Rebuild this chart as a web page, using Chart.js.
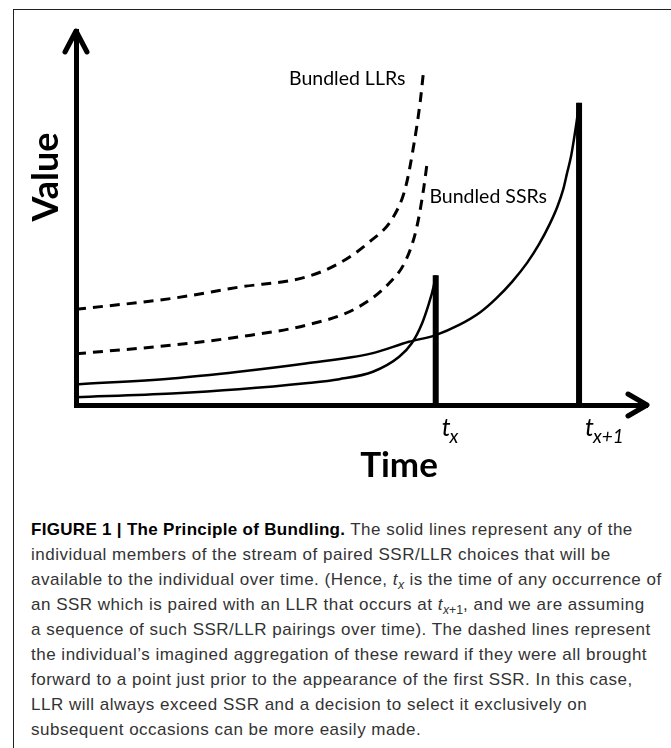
<!DOCTYPE html>
<html>
<head>
<meta charset="utf-8">
<script src="https://cdn.jsdelivr.net/npm/chart.js@4"></script>
<style>
  html, body { margin: 0; padding: 0; background: #fff; }
  body { width: 671px; height: 748px; position: relative; overflow: hidden; }
  #frame { position: absolute; left: 13px; top: 9px; width: 700px; height: 760px;
           border-left: 1.5px solid #222; border-top: 1.5px solid #222; }
  #chart { position: absolute; left: 0; top: 0; }
  #caption { position: absolute; left: 31px; top: 517px; white-space: nowrap;
             font-family: "Liberation Sans", Arial, sans-serif; font-size: 17px;
             letter-spacing: 0.5px; line-height: 25px; color: #333; }
  #caption b { color: #000; letter-spacing: 0.3px; }
  #caption sub { font-size: 72%; line-height: 0; vertical-align: -0.3em; letter-spacing: 0; }
</style>
</head>
<body>
<div id="frame"></div>
<canvas id="chart" width="671" height="500"></canvas>
<div id="caption">
<b>FIGURE 1 | The Principle of Bundling.</b> The solid lines represent any of the<br>
individual members of the stream of paired SSR/LLR choices that will be<br>
available to the individual over time. (Hence, <i>t<sub>x</sub></i> is the time of any occurrence of<br>
an SSR which is paired with an LLR that occurs at <i>t</i><sub><i>x</i>+1</sub>, and we are assuming<br>
a sequence of such SSR/LLR pairings over time). The dashed lines represent<br>
the individual’s imagined aggregation of these reward if they were all brought<br>
forward to a point just prior to the appearance of the first SSR. In this case,<br>
LLR will always exceed SSR and a decision to select it exclusively on<br>
subsequent occasions can be more easily made.
</div>
<script>
// --- DATOS (unidades arbitrarias 0-100) ---
const tx = 63;
const tx1 = 88.1;
const ssrPeak = 34.7;
const llrPeak = 80.8;

const ssrTime  = [0, 16.8, 28.5, 40.2, 46.1, 52.0, 56.6, 58.8, 60.6, 61.8, 62.6, 63];
const ssrValue = [2.1, 3.1, 4.2, 5.8, 6.9, 8.9, 12.9, 16.5, 21.8, 27.1, 31.5, 34.7];

const llrTime  = [0, 16.8, 28.5, 40.2, 51.8, 58.3, 63, 67.1, 70.8, 73.6, 76.4, 79, 81.1, 83, 84.3, 85.3, 86.0, 86.7, 87.2, 87.7, 88.1];
const llrValue = [5.5, 7.1, 8.9, 11.1, 13.8, 16.9, 18.7, 21.4, 24.8, 28.5, 33.0, 38.0, 43.0, 48.5, 53.0, 57.5, 62.0, 66.5, 71.0, 76.0, 80.8];

const bundledLlrTime  = [0, 16.8, 28.5, 40.2, 46.1, 51.3, 55.5, 57.7, 59.2, 60.3, 60.8];
const bundledLlrValue = [25.6, 28.5, 31.5, 34.2, 37.9, 43.5, 50.1, 58.1, 69.9, 81.3, 88.3];

const bundledSsrTime  = [0, 16.8, 28.5, 40.2, 49.0, 54.8, 57.7, 59.6, 60.8, 61.5];
const bundledSsrValue = [13.7, 16.0, 18.2, 21.3, 25.8, 32.5, 38.5, 47.0, 57.0, 64.8];

const xy = (xs, ys) => xs.map((x, i) => ({ x, y: ys[i] }));

const curve = (data, dashed) => ({
  data,
  borderColor: '#000',
  borderWidth: dashed ? 3 : 2.5,
  borderDash: dashed ? [10, 7] : [],
  pointRadius: 0,
  cubicInterpolationMode: 'monotone',
  fill: false
});

const stick = (t, v) => ({
  data: [{ x: t, y: 0 }, { x: t, y: v }],
  borderColor: '#000',
  borderWidth: 6,
  borderCapStyle: 'butt',
  pointRadius: 0
});

// --- FLECHAS Y TEXTOS ---
const annotations = {
  id: 'annotations',
  afterDraw(chart) {
    const { ctx, chartArea: a, scales: { x, y } } = chart;
    ctx.save();
    ctx.strokeStyle = '#000';
    ctx.fillStyle = '#000';
    ctx.lineWidth = 5;
    ctx.lineCap = 'round';
    ctx.lineJoin = 'round';
    ctx.beginPath();
    ctx.moveTo(a.left - 11, a.top + 21);
    ctx.lineTo(a.left, a.top);
    ctx.lineTo(a.left + 11, a.top + 21);
    ctx.moveTo(a.right - 19, a.bottom - 11);
    ctx.lineTo(a.right, a.bottom);
    ctx.lineTo(a.right - 19, a.bottom + 11);
    ctx.stroke();

    ctx.font = '19.5px Lato';
    ctx.textBaseline = 'alphabetic';
    ctx.fillText('Bundled LLRs', x.getPixelForValue(37.3), y.getPixelForValue(85.6));
    ctx.fillText('Bundled SSRs', x.getPixelForValue(61.9), y.getPixelForValue(54));

    const tLabel = (t, sub) => {
      const px = x.getPixelForValue(t) + 6;
      ctx.font = 'italic 25px Lato';
      ctx.fillText('t', px, a.bottom + 31);
      const w = ctx.measureText('t').width;
      ctx.font = 'italic 19px Lato';
      ctx.fillText(sub, px + w - 1, a.bottom + 38);
    };
    tLabel(tx, 'x');
    tLabel(tx1, 'x+1');

    ctx.font = 'bold 35px Lato';
    ctx.textAlign = 'center';
    ctx.fillText('Time', 399, a.bottom + 72);
    ctx.translate(58, 177);
    ctx.rotate(-Math.PI / 2);
    ctx.font = 'bold 36px Lato';
    ctx.fillText('Value', 0, 0);
    ctx.restore();
  }
};

const hiddenAxis = (axis) => ({
  type: 'linear',
  min: 0,
  max: 100,
  grid: { display: false },
  ticks: { display: false },
  border: { display: true, width: 5, color: '#000' },
  afterFit: (s) => { if (axis === 'x') s.height = 0; else s.width = 0; }
});

new Chart(document.getElementById('chart'), {
  type: 'line',
  data: {
    datasets: [
      curve(xy(bundledLlrTime, bundledLlrValue), true),
      curve(xy(bundledSsrTime, bundledSsrValue), true),
      curve(xy(ssrTime, ssrValue), false),
      curve(xy(llrTime, llrValue), false),
      stick(tx, ssrPeak),
      stick(tx1, llrPeak)
    ]
  },
  options: {
    responsive: false,
    animation: false,
    layout: { padding: { left: 76, top: 31, right: 24, bottom: 95 } },
    plugins: { legend: { display: false }, tooltip: { enabled: false } },
    scales: { x: hiddenAxis('x'), y: hiddenAxis('y') }
  },
  plugins: [annotations]
});
</script>
</body>
</html>
